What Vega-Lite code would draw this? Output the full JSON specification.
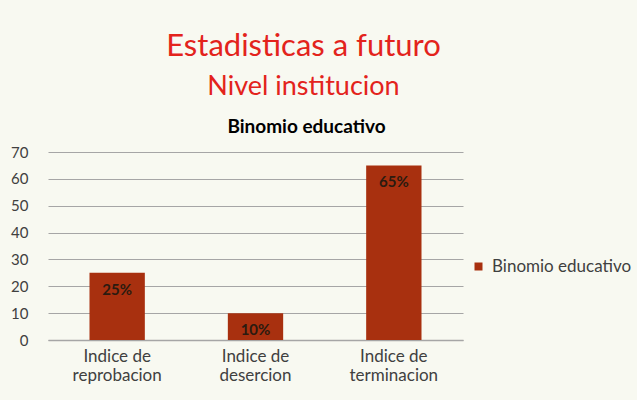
{
  "$schema": "https://vega.github.io/schema/vega-lite/v6.json",
  "width": 415,
  "height": 188,
  "padding": {"left": 10, "top": 31, "right": 5, "bottom": 20},
  "background": "#f8f9f1",
  "config": {
    "font": "Lato",
    "view": {"stroke": null},
    "axis": {"labelFont": "Lato", "titleFont": "Lato"}
  },
  "title": {
    "text": "Estadisticas a futuro",
    "subtitle": "Nivel institucion",
    "anchor": "middle",
    "frame": "group",
    "dx": 48,
    "fontSize": 31,
    "fontWeight": "normal",
    "color": "#e3231c",
    "subtitleFontSize": 27,
    "subtitleColor": "#e3231c",
    "subtitlePadding": 11,
    "offset": 16
  },
  "data": {
    "values": [
      {"categoria": "Indice de reprobacion", "valor": 25, "etiqueta": "25%", "serie": "Binomio educativo"},
      {"categoria": "Indice de desercion", "valor": 10, "etiqueta": "10%", "serie": "Binomio educativo"},
      {"categoria": "Indice de terminacion", "valor": 65, "etiqueta": "65%", "serie": "Binomio educativo"}
    ]
  },
  "encoding": {
    "y": {
      "field": "valor",
      "type": "quantitative",
      "scale": {"domain": [0, 70]},
      "axis": {
        "title": null,
        "tickCount": 7,
        "labelOverlap": false,
        "labelFontSize": 15,
        "labelColor": "#404040",
        "labelPadding": 20,
        "ticks": false,
        "domain": false,
        "gridColor": "#a6a6a6",
        "gridWidth": 1.2
      }
    }
  },
  "layer": [
    {
      "mark": {"type": "bar", "color": "#a8300f"},
      "encoding": {
        "x": {
          "field": "categoria",
          "type": "nominal",
          "sort": null,
          "scale": {"paddingInner": 0.6, "paddingOuter": 0.3},
          "axis": {
            "title": null,
            "labelAngle": 0,
            "labelExpr": "['Indice de', slice(datum.label, 10)]",
            "labelFontSize": 17,
            "labelLineHeight": 19,
            "labelColor": "#404040",
            "labelPadding": 8,
            "ticks": false,
            "domainColor": "#a6a6a6",
            "domainWidth": 1.5
          }
        },
        "color": {
          "field": "serie",
          "type": "nominal",
          "scale": {"range": ["#a8300f"]},
          "legend": {
            "title": null,
            "orient": "none",
            "legendX": 422,
            "legendY": 106,
            "symbolType": "square",
            "symbolSize": 64,
            "labelFontSize": 17,
            "labelColor": "#404040",
            "labelOffset": 5
          }
        }
      }
    },
    {
      "mark": {"type": "text", "baseline": "top", "dy": 10, "fontSize": 15, "fontWeight": "bold", "color": "#2b1b10"},
      "encoding": {
        "x": {"field": "categoria", "type": "nominal", "sort": null, "axis": null},
        "text": {"field": "etiqueta"}
      }
    },
    {
      "mark": {"type": "text", "opacity": 0},
      "encoding": {
        "x": {
          "field": "categoria",
          "type": "nominal",
          "sort": null,
          "axis": {
            "orient": "top",
            "title": "Binomio educativo",
            "titleFontSize": 19,
            "titleFontWeight": "bold",
            "titleColor": "#000000",
            "titlePadding": 16,
            "titleX": 258,
            "titleAlign": "center",
            "labels": false,
            "ticks": false,
            "domain": false,
            "grid": false
          }
        },
        "text": {"field": "etiqueta"}
      }
    }
  ],
  "resolve": {"axis": {"x": "independent"}}
}
